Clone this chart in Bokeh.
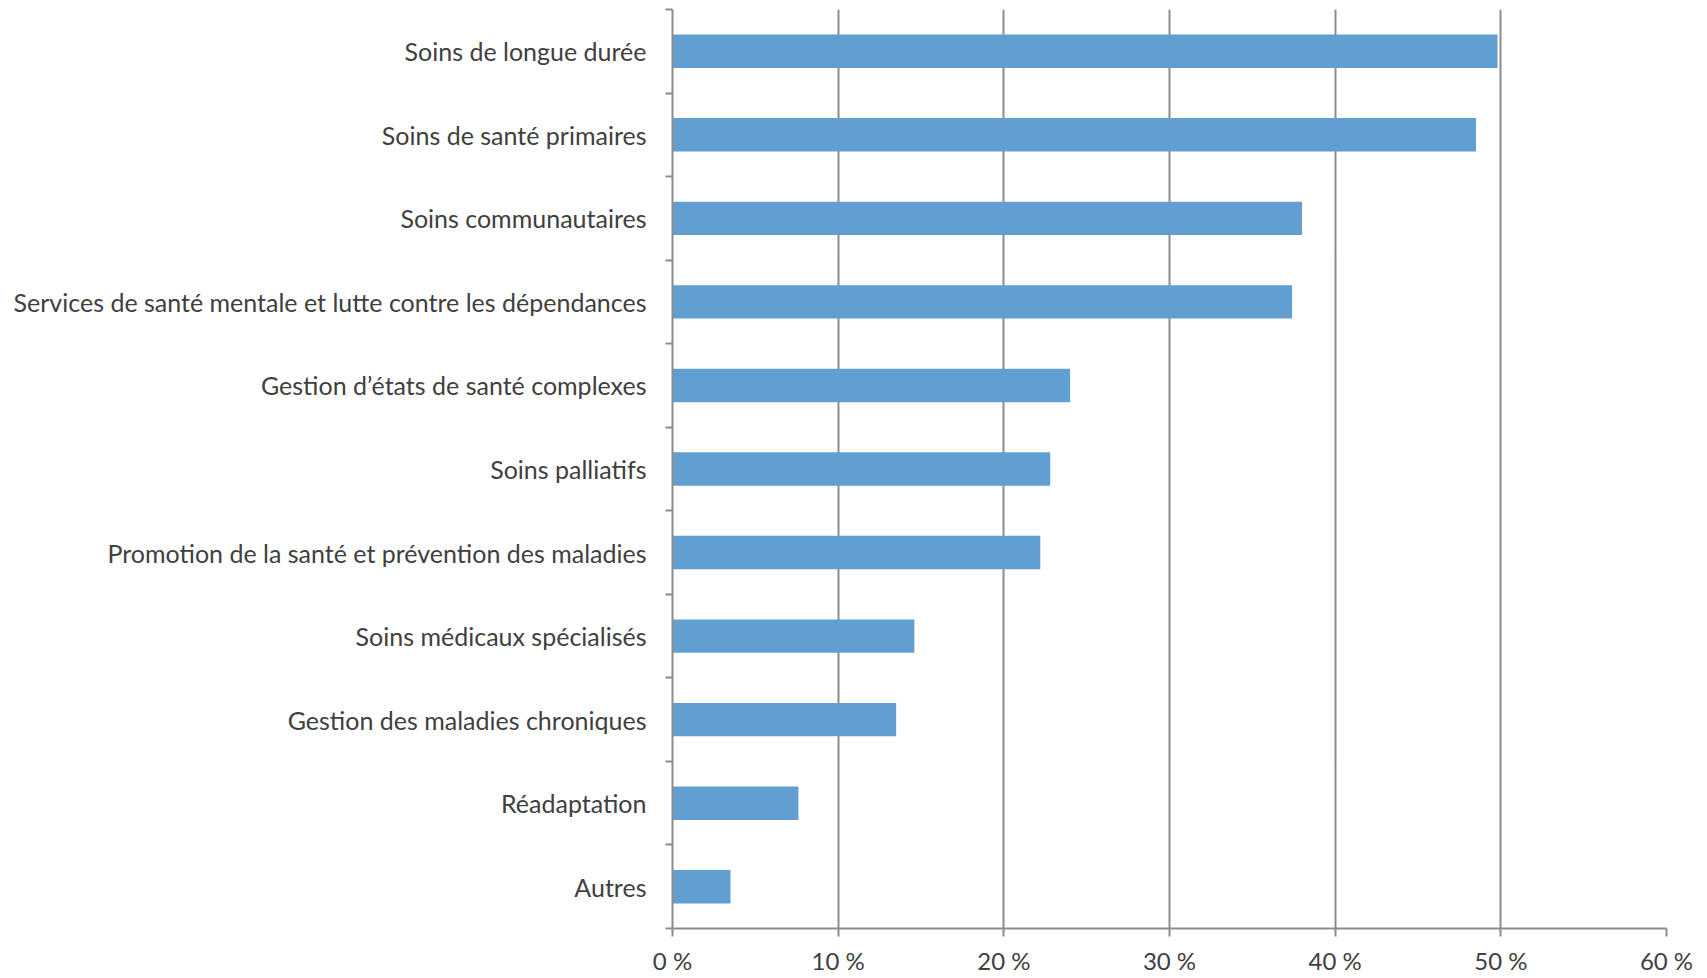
from bokeh.plotting import figure
from bokeh.models import FixedTicker, ColumnDataSource, Range1d
from bokeh.embed import file_html
from bokeh.resources import INLINE

categories = [
    "Soins de longue durée",
    "Soins de santé primaires",
    "Soins communautaires",
    "Services de santé mentale et lutte contre les dépendances",
    "Gestion d’états de santé complexes",
    "Soins palliatifs",
    "Promotion de la santé et prévention des maladies",
    "Soins médicaux spécialisés",
    "Gestion des maladies chroniques",
    "Réadaptation",
    "Autres",
]
values = [49.8, 48.5, 38.0, 37.4, 24.0, 22.8, 22.2, 14.6, 13.5, 7.6, 3.5]
x_ticks = [0, 10, 20, 30, 40, 50, 60]
x_tick_labels = ["0 %", "10 %", "20 %", "30 %", "40 %", "50 %", "60 %"]

n = len(categories)
centers = [n - i - 0.5 for i in range(n)]
bounds = [float(i) for i in range(n + 1)]

src = ColumnDataSource(dict(y=centers, v=values, cat=categories))

FONT = "Lato"
TXT = "#404040"
GRID = "#8c8c8c"

p = figure(width=1698, height=977, output_backend="svg", toolbar_location=None,
           x_range=Range1d(0, 60), y_range=Range1d(0, n),
           min_border_left=672, min_border_right=32, min_border_top=9, min_border_bottom=44)
p.outline_line_color = None

p.hbar(y="y", right="v", left=0, height=0.4, source=src,
       fill_color="#619ED2", line_color=None)

# x axis
p.xaxis.ticker = FixedTicker(ticks=x_ticks)
p.xaxis.major_label_overrides = {t: l for t, l in zip(x_ticks, x_tick_labels)}
p.xaxis.axis_line_color = GRID
p.xaxis.axis_line_width = 2
p.xaxis.major_tick_line_color = GRID
p.xaxis.major_tick_line_width = 2
p.xaxis.major_tick_out = 8
p.xaxis.major_tick_in = 0
p.xaxis.minor_tick_line_color = None
p.xaxis.major_label_text_font = FONT
p.xaxis.major_label_text_font_size = "24px"
p.xaxis.major_label_text_color = TXT
p.xaxis.major_label_standoff = 9

# y axis
p.yaxis.ticker = FixedTicker(ticks=centers, minor_ticks=bounds)
p.yaxis.major_label_overrides = {c: l for c, l in zip(centers, categories)}
p.yaxis.axis_line_color = GRID
p.yaxis.axis_line_width = 2
p.yaxis.major_tick_line_color = None
p.yaxis.minor_tick_line_color = GRID
p.yaxis.minor_tick_line_width = 2
p.yaxis.minor_tick_out = 7
p.yaxis.minor_tick_in = 0
p.yaxis.major_label_text_font = FONT
p.yaxis.major_label_text_font_size = "25px"
p.yaxis.major_label_text_color = TXT
p.yaxis.major_label_standoff = 19

p.xgrid.ticker = FixedTicker(ticks=x_ticks)
p.xgrid.grid_line_color = GRID
p.xgrid.grid_line_width = 2
p.ygrid.grid_line_color = None

open("out.html", "w").write(file_html(p, INLINE))
